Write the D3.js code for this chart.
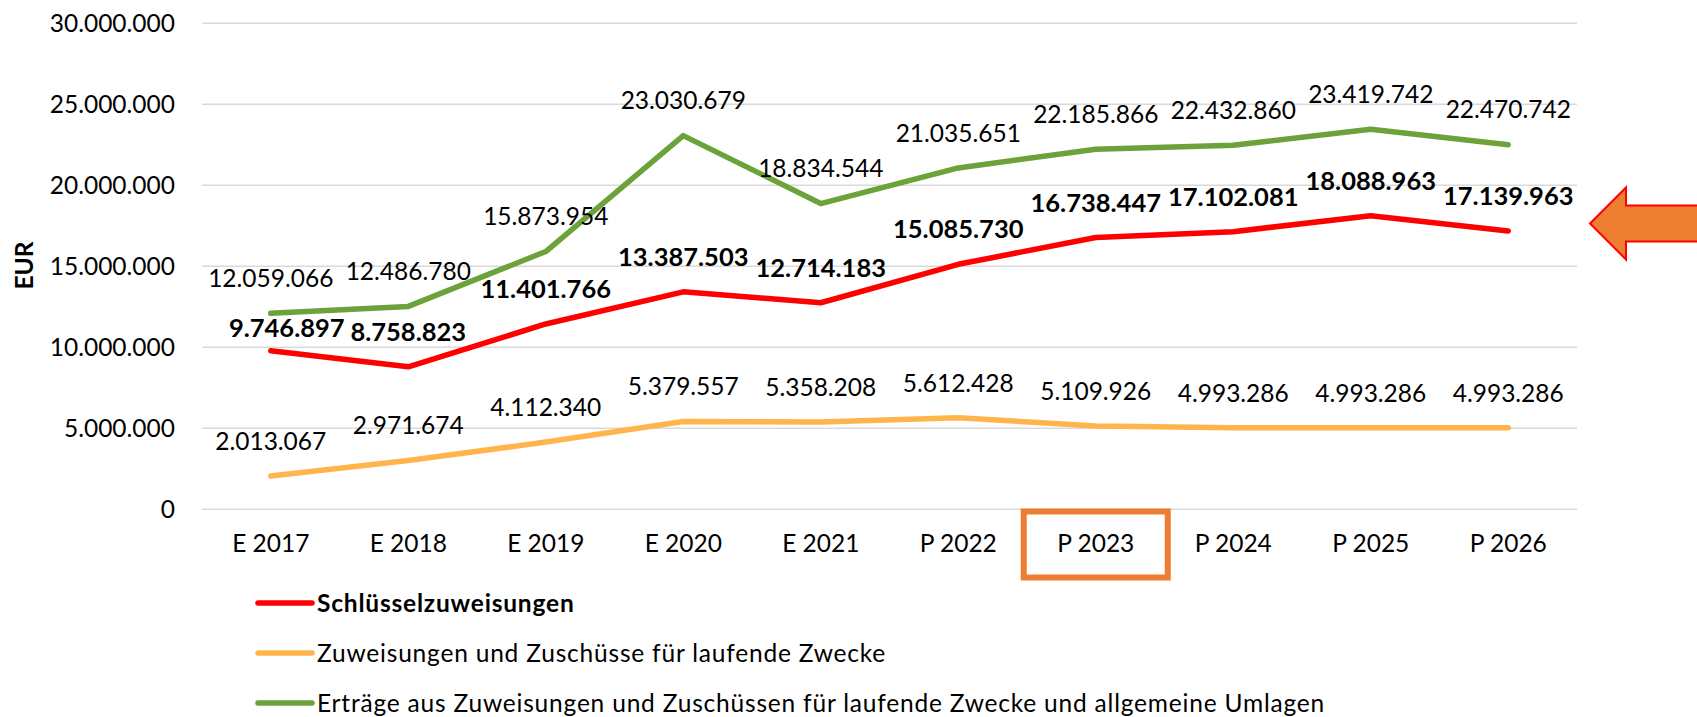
<!DOCTYPE html>
<html>
<head>
<meta charset="utf-8">
<script src="https://cdn.jsdelivr.net/npm/d3@7"></script>
<style>
  body { margin: 0; background: #fff; }
  svg { display: block; font-family: Lato, "Open Sans", sans-serif; }
</style>
</head>
<body>
<svg width="1697" height="717"></svg>
<script>
var categories = ["E 2017", "E 2018", "E 2019", "E 2020", "E 2021", "P 2022", "P 2023", "P 2024", "P 2025", "P 2026"];

var schluessel = [9746897, 8758823, 11401766, 13387503, 12714183, 15085730, 16738447, 17102081, 18088963, 17139963];
var zuweisungen = [2013067, 2971674, 4112340, 5379557, 5358208, 5612428, 5109926, 4993286, 4993286, 4993286];
var ertraege = [12059066, 12486780, 15873954, 23030679, 18834544, 21035651, 22185866, 22432860, 23419742, 22470742];

var yTicks = [0, 5000000, 10000000, 15000000, 20000000, 25000000, 30000000];

var seriesNames = [
  "Schlüsselzuweisungen",
  "Zuweisungen und Zuschüsse für laufende Zwecke",
  "Erträge aus Zuweisungen und Zuschüssen für laufende Zwecke und allgemeine Umlagen"
];

var highlightCategory = "P 2023";

var series = [
  {name: seriesNames[0], values: schluessel, color: "#ff0000", bold: true},
  {name: seriesNames[1], values: zuweisungen, color: "#ffb54b", bold: false},
  {name: seriesNames[2], values: ertraege, color: "#6ba23a", bold: false}
];

var svg = d3.select("svg"),
    margin = {top: 22.7, right: 120, bottom: 208.3, left: 202},
    width = +svg.attr("width") - margin.left - margin.right,
    height = +svg.attr("height") - margin.top - margin.bottom;

var de = d3.formatLocale({decimal: ",", thousands: ".", grouping: [3], currency: ["", " €"]});
var fmt = de.format(",d");

var x = d3.scaleBand().domain(categories).range([0, width]).padding(0),
    y = d3.scaleLinear().domain([0, 30000000]).range([height, 0]);

var cx = function(c) { return x(c) + x.bandwidth() / 2; };

var g = svg.append("g")
    .attr("transform", "translate(" + margin.left + "," + margin.top + ")");

// gridlines + y labels
var yAxis = g.append("g")
    .call(d3.axisLeft(y).tickValues(yTicks).tickSize(-width).tickPadding(27).tickFormat(fmt))
    .attr("font-family", null)
    .attr("font-size", null);
yAxis.select(".domain").remove();
yAxis.selectAll("line").attr("stroke", "#d9d9d9").attr("stroke-width", 1.5);
yAxis.selectAll("text")
    .style("font-size", "24.5px")
    .attr("fill", "#000")
    .attr("dy", "0.36em");

var xAxis = g.append("g")
    .attr("transform", "translate(0," + height + ")")
    .call(d3.axisBottom(x).tickSize(0).tickPadding(26))
    .attr("font-family", null)
    .attr("font-size", null);
xAxis.select(".domain").remove();
xAxis.selectAll("text")
    .style("font-size", "24.5px")
    .attr("fill", "#000");

svg.append("text")
    .attr("transform", "translate(33,265.5)rotate(-90)")
    .attr("text-anchor", "middle")
    .style("font-size", "24.5px")
    .style("font-weight", "bold")
    .text("EUR");

// highlight box around the current year
g.append("rect")
    .attr("x", cx(highlightCategory) - 72)
    .attr("y", height + 2.8)
    .attr("width", 144)
    .attr("height", 66)
    .attr("fill", "none")
    .attr("stroke", "#ed7d31")
    .attr("stroke-width", 6);

var line = d3.line()
    .x(function(d, i) { return cx(categories[i]); })
    .y(function(d) { return y(d); });

// draw order: orange, red, green
[series[1], series[0], series[2]].forEach(function(s) {
  g.append("path")
      .attr("d", line(s.values))
      .attr("fill", "none")
      .attr("stroke", s.color)
      .attr("stroke-width", 5.5)
      .attr("stroke-linecap", "round")
      .attr("stroke-linejoin", "round");
});

// data labels, the first red one was nudged by hand in the source
var nudge = {"0-0": [16, 12]};
series.forEach(function(s, si) {
  g.selectAll(null)
    .data(s.values)
    .enter().append("text")
      .attr("x", function(d, i) { return cx(categories[i]) + (nudge[si + "-" + i] ? nudge[si + "-" + i][0] : 0); })
      .attr("y", function(d, i) { return y(d) - 35 + (nudge[si + "-" + i] ? nudge[si + "-" + i][1] : 0); })
      .attr("dy", "0.36em")
      .attr("text-anchor", "middle")
      .style("font-size", s.bold ? "25.5px" : "24.5px")
      .style("font-weight", s.bold ? "bold" : "normal")
      .text(function(d) { return fmt(d); });
});

// legend
var legend = svg.append("g").attr("transform", "translate(258,603)");
series.forEach(function(s, i) {
  var row = legend.append("g").attr("transform", "translate(0," + (i * 50) + ")");
  row.append("line")
      .attr("x1", 0).attr("x2", 54)
      .attr("stroke", s.color)
      .attr("stroke-width", 5.5)
      .attr("stroke-linecap", "round");
  row.append("text")
      .attr("x", 59)
      .attr("dy", "0.36em")
      .style("font-size", "24.5px")
      .style("letter-spacing", "0.8px")
      .style("font-weight", s.bold ? "bold" : "normal")
      .text(s.name);
});

// arrow pointing at the red line
var ax = margin.left + width + 13, ay = 223.5;
svg.append("path")
    .attr("d", "M" + ax + "," + ay +
               "L" + (ax + 36) + "," + (ay - 36) +
               "L" + (ax + 36) + "," + (ay - 18) +
               "L" + 1700 + "," + (ay - 18) +
               "L" + 1700 + "," + (ay + 18) +
               "L" + (ax + 36) + "," + (ay + 18) +
               "L" + (ax + 36) + "," + (ay + 36) + "Z")
    .attr("fill", "#ed7d31")
    .attr("stroke", "#ff0000")
    .attr("stroke-width", 2);
</script>
</body>
</html>
